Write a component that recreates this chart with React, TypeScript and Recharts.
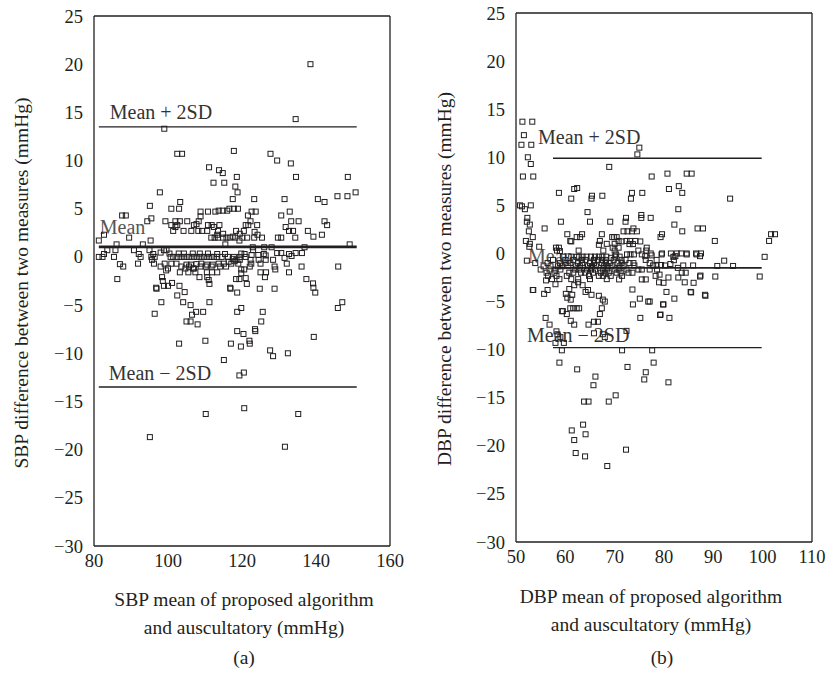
import { ScatterChart, Scatter, XAxis, YAxis, ReferenceLine } from 'recharts';

const SERIF = '"Liberation Serif", "Times New Roman", serif';
const INK = '#231f20';

// axis ticks
const diffTicks = [-30, -25, -20, -15, -10, -5, 0, 5, 10, 15, 20, 25];
const diffInnerTicks = [-25, -20, -15, -10, -5, 0, 5, 10, 15, 20];
const sbpTicks = [80, 100, 120, 140, 160];
const sbpTopTicks = [100, 120, 140];
const dbpTicks = [50, 60, 70, 80, 90, 100, 110];
const dbpTopTicks = [60, 70, 80, 90, 100];

// limits of agreement: [mean + 2SD, mean, mean - 2SD] and x span of the lines
const sbpLimits = [13.5, 1.05, -13.5];
const sbpSpan = [81.3, 151];
const dbpLimits = [9.9, -1.5, -9.8];
const dbpSpan = [57.5, 99.8];

// SBP: mean of the two methods vs difference
const sbpOuter: [number, number][] = [
  [138.5, 20], [134.5, 14.3], [99, 13.3], [102.5, 10.7], [103.8, 10.7], [117.8, 11], [127.7, 10.7],
  [129.5, 10], [133.2, 9.7], [111.1, 9.3], [113.8, 9], [114.8, 8.7], [118.6, 8.3], [134.6, 8.3],
  [148.6, 8.3], [112.3, 7.7], [115.2, 7.7], [118.2, 7.3], [118.8, 6.7], [97.8, 6.7], [150.7, 6.7],
  [148.5, 6.3], [145.8, 6.3], [117.5, 6], [123.3, 6], [131.5, 6], [140.5, 6], [142.3, 5.7],
  [103.3, 5.7], [95.1, 5.3], [100.9, 5], [103, 5],
];
const sbpUpperBand: [number, number][] = [
  [108.8, 4.7], [110.8, 4.7], [112.8, 4.7], [113.7, 4.8], [114.8, 4.8], [116, 4.8], [116.6, 5],
  [117.8, 5], [118.9, 5], [122.6, 4.7], [123.7, 4.7], [132.9, 4.7], [87.6, 4.3], [88.6, 4.3],
  [130.6, 4.3], [121.6, 4.3], [95.5, 4], [108.8, 4.2], [94.4, 3.7], [99.3, 3.7], [102, 3.7],
  [103.2, 3.7], [105.2, 3.7], [108.3, 3.7], [122.3, 3.7], [133.3, 3.7], [135.3, 3.7], [142.3, 3.7],
  [100.9, 3.3], [102.5, 3.3], [107, 3.3], [107.7, 3.4], [110.8, 3.3], [111.8, 3.3], [113.9, 3.3],
  [121, 3.3], [121.7, 3.3], [124.1, 3.3], [143, 3.3], [131.8, 3.1], [112.4, 3.1], [101.4, 2.7],
  [102, 3.1], [104.2, 2.7], [106.3, 2.7], [108.2, 2.7], [109.2, 2.7], [110.6, 2.7], [113.5, 2.7],
  [118.4, 2.7], [120.5, 2.7], [123.4, 2.6], [132.7, 2.7], [133.8, 2.7], [137.8, 2.7], [82.7, 2.3],
  [113.3, 2.3], [114.9, 2.4], [141.6, 2.3], [124.2, 2.3], [119.4, 2.4], [89.5, 2], [111.7, 2],
  [112.6, 2], [113.5, 2], [114.9, 2], [115.8, 2], [116.7, 2], [117.5, 2.1], [118.2, 2], [120.1, 2],
  [121.4, 2], [123.3, 2], [125.4, 2], [129.7, 2], [130.6, 2], [134.4, 2], [139.3, 2.1],
  [119.3, 1.7], [95.3, 1.7], [81.3, 1.7], [93.2, 1.3], [86.1, 1.3], [149.1, 1.3], [115.5, 1.3],
  [128, 1], [126, 1], [122.9, 1], [136.9, 1],
];
const sbpCore: [number, number][] = [
  [83.6, 0.7], [85.8, 0.7], [90.8, 0.7], [95, 0.7], [98.9, 0.7], [99.6, 0.7], [123, 0.7],
  [92.1, 0.3], [82.7, 0.3], [96, 0.3], [98, 0.45], [100.4, 0.35], [102.9, 0.35], [104.3, 0.35],
  [106.7, 0.35], [108.6, 0.35], [110.8, 0.35], [132.7, 0.3], [133.4, 0.1], [129.5, 0.4],
  [130.6, 0.4], [134.5, 0.4], [125.9, 0.3], [120.7, 0.3], [119.8, 0.35], [113.3, 0.3], [115.4, 0.3],
  [81.3, 0], [82.3, 0], [85.4, 0], [92.6, 0], [95.5, 0], [96.4, 0], [100.7, 0], [101.4, 0],
  [102.5, 0], [103.4, 0], [104.3, 0], [105.2, 0], [106.1, 0], [107, 0], [107.9, 0], [108.8, 0],
  [109.7, 0], [110.6, 0], [111.5, 0], [112.4, 0], [113.3, 0], [119.4, 0], [121, 0], [122.6, 0.2],
  [124.4, 0.2], [126.4, 0.15], [131.5, -0.1], [136.2, 0.4], [114.5, 0], [116.2, 0], [117.8, 0],
  [95.7, -0.3], [119.4, -0.3], [122.3, -0.3], [124.5, -0.3], [126.4, -0.3], [128.4, -0.3],
  [118.5, -0.3], [117.5, -0.2], [91.9, -0.7], [87, -0.75], [96.2, -0.7], [99.1, -0.7],
  [100.9, -0.7], [102.3, -0.7], [105, -0.8], [106.2, -0.8], [107.7, -0.75], [109, -0.7],
  [110.6, -0.8], [112.1, -0.8], [113.7, -0.7], [115.1, -0.7], [116.4, -0.5], [117.1, -0.7],
  [118, -0.45], [119, -0.7], [122.5, -0.7], [125, -0.7], [132.1, -0.7], [87.9, -1], [98, -1],
  [103.6, -1], [104.7, -1.2], [105.7, -1], [107, -1.2], [108.8, -1], [110.2, -1], [111.8, -1],
  [114.1, -1], [115.7, -1], [122.1, -1], [128.8, -1], [129, -1.3], [136.1, -1], [146, -1],
  [100, -1.2],
];
const sbpLowerBand: [number, number][] = [
  [99.5, -1.4], [103.2, -1.6], [105.5, -1.6], [106.8, -1.2], [107.4, -1.6], [108.5, -2.1],
  [110.5, -1.6], [111.9, -1.6], [110.6, -2.1], [111, -2.4], [111.2, -2.8], [113.3, -1.6],
  [119.8, -1.3], [120.6, -1.3], [126.5, -1.6], [132.7, -1.6], [125, -1.6], [126.2, -2.1],
  [98.4, -2.1], [98.6, -2.5], [86.3, -2.3], [118.4, -2.3], [119.3, -2.3], [137.4, -2.3],
  [139.2, -2.75], [119.8, -1.7], [121, -2.2], [121.3, -2.8], [96.8, -3.2], [98.9, -3], [100, -3],
  [101.1, -2.7], [103.1, -3], [116.8, -3.2], [124.8, -3.3], [128.8, -3.3], [96.9, -3.3],
  [116.9, -3.3], [102.5, -4], [104.5, -3.65], [118.7, -3.7], [139.8, -3.7], [139.3, -3.2],
  [98.2, -4.7], [104.1, -4.7], [106.1, -5], [111.2, -4.7], [119.8, -5.3], [145.9, -5.3],
  [147.1, -4.7], [96.4, -5.9], [106.5, -6], [107.6, -5.7], [109.5, -5.7], [118.7, -5.7],
  [125.6, -5.7], [105, -6.7], [106.1, -6.7], [108, -7], [125.2, -6.7], [123.5, -7.5],
  [110.1, -8.7], [103, -9], [117, -9], [118.7, -7.7], [120.4, -8], [119.7, -9.3], [122, -8.7],
  [122.1, -9], [123.6, -7.7], [139.4, -8.3], [115.1, -10.7], [127.6, -9.7], [128.4, -10.3],
  [132.4, -10], [119.3, -12.3], [120.5, -12], [120.6, -15.7], [110.2, -16.3], [135.2, -16.3],
  [95.1, -18.7], [131.6, -19.7],
];

// DBP: mean of the two methods vs difference
const dbpLeftEdge: [number, number][] = [
  [51.3, 13.7], [53.3, 13.7], [51.6, 12.3], [51.1, 11.3], [53.1, 11.3], [52.4, 10], [53, 9.3],
  [51.4, 8], [53.5, 8], [50.8, 5], [51.2, 4.9], [51.8, 4.6], [53, 5], [52.3, 3.7], [52.2, 3.3],
  [52.8, 3], [52.6, 2.3], [53.4, 1.7], [52.8, 1], [52.7, 0.7], [52, 1.3], [52.2, -0.75],
  [54.7, 0.7], [53.9, -1], [53.5, -3.8], [55.8, 2.6],
];
const dbpUpper: [number, number][] = [
  [58.7, 6.3], [59.1, 3.3], [61.8, 6.7], [62.4, 6.8], [61.2, 5.7], [64.5, 4.3], [65.4, 6],
  [65.3, 5.7], [67.5, 6], [68.9, 9], [65, 3.3], [69.1, 3.3], [73.3, 5.7], [73.5, 6.3], [75.6, 6.3],
  [74.6, 10.3], [75, 11], [77.5, 8], [75.4, 3.7], [75.4, 4], [77.3, 3.7], [72.2, 3.3], [72.3, 3.7],
  [80.7, 8.3], [81, 6.7], [83, 7], [83.7, 6.3], [84.6, 8.3], [85.6, 8.3], [82.9, 4.6], [82.1, 3],
  [83.7, 2.3], [93.4, 5.7], [86.8, 2.6], [87.9, 2.6], [90.3, 1.3], [101.3, 1.3], [101.7, 2],
  [102.5, 2], [100.4, -0.35], [99.4, -2.4], [94, -1.3], [92.2, -0.75], [90.8, -1.3], [90.4, -2.4],
  [88.4, -4.4], [85.4, -4], [84.2, -3], [87.3, -2.4], [87.5, 0], [86.5, 0], [84.6, 0], [83.5, 0],
  [82.6, 0], [81.9, -0.35], [81.4, 0], [79.6, 0], [77.3, 0], [76.4, 0.3], [74.8, 0.3],
  [79.3, 1.7], [79.6, 2], [76.5, 0.6], [72.4, 1.3], [73.1, 1.3], [74.2, 1.3], [71.8, 2.3],
  [72.6, 2.3], [73.5, 2.3], [74.5, 2.3], [73.8, 2.6], [67.4, 2], [69.5, 1.7], [69.9, 1.7],
  [70.4, 1.7], [70.8, 1.3], [60.4, 2], [61, 1.3], [62.3, 1.7], [63, 1.7], [63.4, 2], [58.7, 0.6],
  [58.3, 0.3], [62.7, 0.3], [66.8, 0.9], [67, 1.3], [68.4, 1], [67.7, 0.3], [62.3, -0.35],
  [70, 1], [69.6, 0.6], [70, 0.3], [70.3, -0.1], [69.3, -0.45], [58.1, 0.6], [58.9, 0.25],
  [61.2, 1.25], [71.4, 1.25], [73, 0.97], [73.7, 0.97], [75.2, 1.25], [70.8, 0.6],
];
const dbpCluster: [number, number][] = [
  [59.5, -0.33], [61.2, -0.33], [62.8, -0.33], [63.5, -0.33], [64.3, -0.33], [65.2, -0.33],
  [66, -0.33], [66.8, -0.33], [67.5, -0.33], [68.3, -0.33], [70.1, -0.33], [71, -0.33],
  [72.5, -0.1], [73.2, -0.1], [73.9, -0.1], [75.5, -0.1], [77.5, -0.2], [79.5, -0.1],
  [84.6, -0.1], [86.6, -0.1], [87.3, -0.28], [82.3, -0.28], [76.2, -0.28],
  [57.5, -0.67], [60, -0.67], [61.6, -0.67], [63.3, -0.67], [64.1, -0.67], [65.8, -0.67],
  [66.6, -0.67], [67.4, -0.67], [68.2, -0.67], [69.8, -0.67], [71.4, -0.67], [72.2, -0.67],
  [76.3, -0.67], [78.5, -0.67], [82, -0.7],
  [56.4, -1], [58.9, -1], [60.2, -1], [61, -1], [62.6, -1], [63.4, -1], [65, -1], [65.8, -1],
  [67.4, -1], [68.2, -1], [69, -1], [70.6, -1], [71.4, -1], [73, -1], [73.8, -1], [77.1, -1],
  [79.4, -1.2], [81.3, -1.1],
  [55.6, -1.33], [57, -1.33], [58.5, -1.33], [59.3, -1.33], [60.6, -1.33], [62.2, -1.33],
  [63, -1.33], [64.6, -1.33], [65.4, -1.33], [66.2, -1.33], [67.8, -1.33], [68.6, -1.33],
  [69.4, -1.33], [71, -1.33], [71.8, -1.33], [74, -1.25], [77.8, -1.25], [78.5, -1.25],
  [80.2, -1.25], [83.9, -1.25], [85.9, -1.25],
  [55, -1.67], [56.8, -1.67], [58, -1.67], [59, -1.67], [62, -1.67], [62.8, -1.67],
  [64.4, -1.67], [65.2, -1.67], [66, -1.67], [67.6, -1.67], [68.4, -1.67], [70, -1.67],
  [70.8, -1.67], [72.4, -1.67], [74.8, -1.67], [75.5, -1.67], [77.1, -1.67], [78.6, -1.67],
  [82.8, -1.5],
  [56.2, -2], [57.8, -2], [60.8, -2], [61.6, -2], [63.2, -2], [64, -2], [65.6, -2], [67.2, -2],
  [68, -2], [68.8, -2], [70.4, -2], [71.2, -2], [72.8, -2], [73.6, -2], [83.6, -2], [84.4, -2],
  [56.5, -2.33], [58.2, -2.33], [60.3, -2.33], [64.8, -2.33], [66.8, -2.33], [67.6, -2.33],
  [69.2, -2.33], [71.5, -2.33], [78.3, -2.33], [79.1, -2.2], [80.9, -2.5], [87.4, -2.3],
  [57.3, -2.67], [58.8, -2.67], [61.2, -2.67], [62.6, -2.67], [65, -2.67], [68.4, -2.67],
  [70.9, -2.7], [75.5, -2.7], [76.3, -2.7], [82.9, -2.5], [79.9, -3.05], [79, -3],
];
const dbpLower: [number, number][] = [
  [56.1, -2.8], [58, -3.2], [53.4, -3.8], [55.7, -4.2], [56.4, -3.8], [60.1, -4.2], [60.4, -4.6],
  [61.4, -4.3], [61.1, -4.8], [60.8, -3.7], [61.8, -3.3], [62.6, -3], [63.5, -3.3], [64.1, -4],
  [64.6, -3.8], [65.3, -4.3], [66.8, -4.4], [67.6, -4.8], [73.6, -3.75], [73.7, -5.3], [75.1, -4.7],
  [76.8, -5], [79.8, -5.3], [80.5, -4], [82.1, -4.7], [75.2, -6.7], [77.1, -5], [79.2, -6.4],
  [79.9, -5.3], [81.1, -6.7], [79.3, -6.35], [85.5, -4.05], [86, -3.05], [88.3, -4.3],
  [56, -6.7], [56.8, -7.4], [59.3, -6], [59.5, -6], [60.3, -6.3], [61, -5.7], [61.6, -5.7],
  [62.3, -5.7], [62.8, -5.7], [61.1, -7], [61.8, -7.4], [64.7, -7.4], [65.8, -7.1], [66.6, -7.1],
  [67, -6.3], [67.4, -5.7], [68, -5], [58.2, -8.1], [58.4, -8.4], [59, -8.7], [58, -9.3],
  [59.7, -9.3], [59.3, -10.07], [65.8, -8.3], [67.6, -8.4], [68, -8.7], [72.4, -8.05],
  [71.5, -10.07], [77.6, -10.07], [58.8, -11.35], [62.4, -12.05], [66.1, -12.8], [65.7, -13.7],
  [63.8, -15.4], [64.7, -15.4], [68.8, -15.4], [70.2, -14.75], [63.6, -17.8], [61.3, -18.4],
  [61.8, -19.4], [64.1, -18.8], [62.1, -20.75], [64, -21.1], [68.5, -22.1], [72.3, -20.4],
  [72.6, -11.8], [77.9, -11.35], [76.3, -12.35], [76, -13.1], [80.9, -13.4],
];

const sbpPoints = [...sbpOuter, ...sbpUpperBand, ...sbpCore, ...sbpLowerBand].map(([x, y]) => ({ x, y }));
const dbpPoints = [...dbpLeftEdge, ...dbpUpper, ...dbpCluster, ...dbpLower].map(([x, y]) => ({ x, y }));

const fmt = (v: number) => (v < 0 ? `\u2212${-v}` : `${v}`);

const Square = (props: { cx?: number; cy?: number }) => {
  const { cx = 0, cy = 0 } = props;
  return <rect x={cx - 2.5} y={cy - 2.5} width={5} height={5} fill="none" stroke={INK} strokeWidth={1} />;
};

const lineLabel = (text: string, dx: number, dy: number, color = '#333') => (p: any) => {
  const vb = p.viewBox || {};
  return (
    <text x={vb.x + dx} y={vb.y + dy} fill={color} fontSize={20} fontFamily={SERIF}>
      {text}
    </text>
  );
};

interface PanelProps {
  data: { x: number; y: number }[];
  xDomain: [number, number];
  xTicks: number[];
  topTicks: number[];
  limits: number[];
  span: number[];
  labelDx: number[];
  labelDy: number[];
  meanWidth: number;
  margin: { top: number; right: number; bottom: number; left: number };
}

function Panel({ data, xDomain, xTicks, topTicks, limits, span, labelDx, labelDy, meanWidth, margin }: PanelProps) {
  const texts = ['Mean + 2SD', 'Mean', 'Mean \u2212 2SD'];
  const tickStyle = { fill: INK, fontSize: 18.5, fontFamily: SERIF };
  return (
    <ScatterChart width={410} height={600} margin={margin}>
      <XAxis xAxisId={0} type="number" dataKey="x" domain={xDomain} ticks={xTicks} allowDataOverflow
        tickLine={false} tickSize={0} tickMargin={8} tick={tickStyle} axisLine={{ stroke: INK, strokeWidth: 1.3 }} height={30} />
      <XAxis xAxisId="top" orientation="top" type="number" domain={xDomain} ticks={topTicks} allowDataOverflow
        tickSize={-6} tickLine={{ stroke: INK, strokeWidth: 1.3 }} tick={false} axisLine={{ stroke: INK, strokeWidth: 1.3 }} height={1} />
      <YAxis yAxisId={0} type="number" dataKey="y" domain={[-30, 25]} ticks={diffTicks} allowDataOverflow
        tickLine={false} tickSize={0} tickMargin={11} tick={tickStyle} tickFormatter={fmt}
        axisLine={{ stroke: INK, strokeWidth: 1.3 }} width={60} />
      <YAxis yAxisId="right" orientation="right" type="number" domain={[-30, 25]} ticks={diffInnerTicks} allowDataOverflow
        tickSize={-6} tickLine={{ stroke: INK, strokeWidth: 1.3 }} tick={false} axisLine={{ stroke: INK, strokeWidth: 1.3 }} width={1} />
      {limits.map((v, i) => (
        <ReferenceLine key={i} segment={[{ x: span[0], y: v }, { x: span[1], y: v }]}
          stroke={INK} strokeWidth={i === 1 ? meanWidth : 1.3}
          label={lineLabel(texts[i], labelDx[i], labelDy[i], i === 1 ? '#555' : '#333')} />
      ))}
      <Scatter data={data} shape={<Square />} isAnimationActive={false} />
    </ScatterChart>
  );
}

const titleStyle = { position: 'absolute' as const, fontFamily: SERIF, fontSize: 19.5, color: INK, whiteSpace: 'nowrap' as const };

function Centered({ x, y, text, rotate = false }: { x: number; y: number; text: string; rotate?: boolean }) {
  return (
    <div style={{ ...titleStyle, left: x, top: y, lineHeight: '24px', transform: `translate(-50%, -50%)${rotate ? ' rotate(-90deg)' : ''}` }}>
      {text}
    </div>
  );
}

export default function App() {
  return (
    <div style={{ position: 'fixed', left: 0, top: 0, width: 829, height: 680, background: '#fff' }}>
      <div style={{ position: 'absolute', left: 0, top: 0 }}>
        <Panel data={sbpPoints} xDomain={[80, 160]} xTicks={sbpTicks} topTicks={sbpTopTicks}
          limits={sbpLimits} span={sbpSpan} labelDx={[11, 1, 10]} labelDy={[-8, -13, -7]} meanWidth={2.8}
          margin={{ top: 15, right: 19, bottom: 24, left: 34 }} />
      </div>
      <div style={{ position: 'absolute', left: 420, top: 0 }}>
        <Panel data={dbpPoints} xDomain={[50, 110]} xTicks={dbpTicks} topTicks={dbpTopTicks}
          limits={dbpLimits} span={dbpSpan} labelDx={[-15, -25, -26]} labelDy={[-14, -5, -6]} meanWidth={1.6}
          margin={{ top: 12, right: 17, bottom: 28, left: 36 }} />
      </div>
      <Centered x={22} y={283} text="SBP difference between two measures (mmHg)" rotate />
      <Centered x={445} y={279} text="DBP difference between two measures (mmHg)" rotate />
      <Centered x={244} y={600} text="SBP mean of proposed algorithm" />
      <Centered x={244} y={628} text="and auscultatory (mmHg)" />
      <Centered x={651} y={597} text="DBP mean of proposed algorithm" />
      <Centered x={651} y={625} text="and auscultatory (mmHg)" />
      <Centered x={244} y={658} text="(a)" />
      <Centered x={662} y={658} text="(b)" />
    </div>
  );
}
